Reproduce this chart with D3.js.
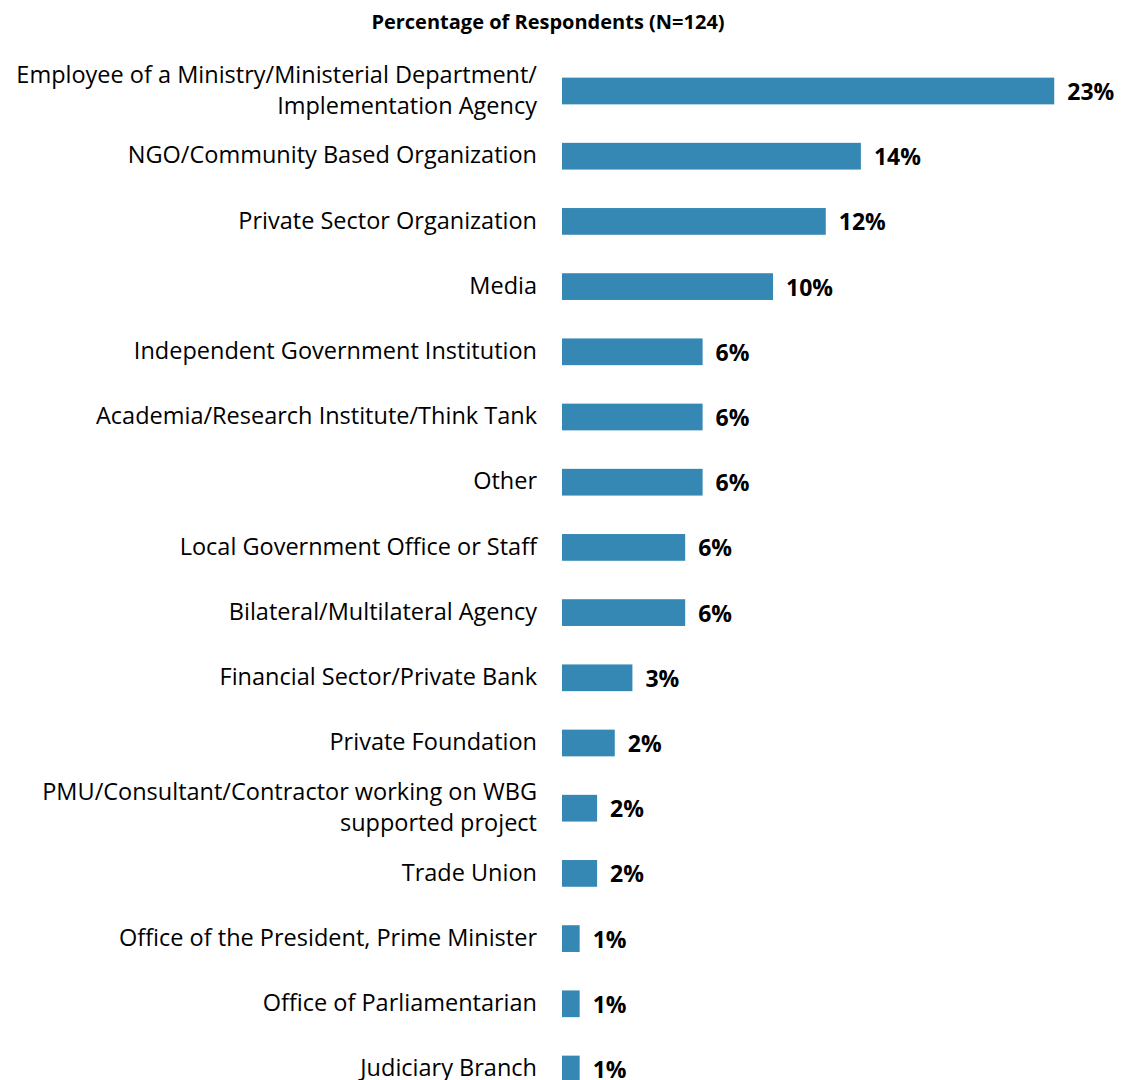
<!DOCTYPE html>
<html>
<head>
<meta charset="utf-8">
<script src="https://cdn.jsdelivr.net/npm/d3@7"></script>
<style>
  body { margin: 0; background: #fff; }
  text { font-family: "Open Sans", sans-serif; fill: #000; }
</style>
</head>
<body>
<div id="chart"></div>
<script>
// Categories (each entry is a list of label lines)
var categories = [
    ["Employee of a Ministry/Ministerial Department/", "Implementation Agency"],
    ["NGO/Community Based Organization"],
    ["Private Sector Organization"],
    ["Media"],
    ["Independent Government Institution"],
    ["Academia/Research Institute/Think Tank"],
    ["Other"],
    ["Local Government Office or Staff"],
    ["Bilateral/Multilateral Agency"],
    ["Financial Sector/Private Bank"],
    ["Private Foundation"],
    ["PMU/Consultant/Contractor working on WBG", "supported project"],
    ["Trade Union"],
    ["Office of the President, Prime Minister"],
    ["Office of Parliamentarian"],
    ["Judiciary Branch"]
];

// Percentage of respondents (N=124)
var values = [22.58, 13.71, 12.10, 9.68, 6.45, 6.45, 6.45, 5.65, 5.65, 3.23, 2.42, 1.61, 1.61, 0.81, 0.81, 0.81];

var title = "Percentage of Respondents (N=124)";

var width = 1131, height = 1080;

var svg = d3.select("#chart")
    .append("svg")
    .attr("width", width)
    .attr("height", height);

var idx = d3.range(categories.length);

// Bar positions
var y = d3.scaleBand()
    .domain(idx)
    .range([58.4, 1101.6])
    .paddingInner(0.59)
    .paddingOuter(0.295);

var x = d3.scaleLinear()
    .domain([0, 25])
    .range([562, 562 + 25 * 21.8]);

// Title
svg.append("text")
    .attr("x", 548)
    .attr("y", 29)
    .attr("text-anchor", "middle")
    .style("font-weight", "bold")
    .style("font-size", "20px")
    .text(title);

// Bars
svg.selectAll(".bar")
    .data(idx)
    .enter()
    .append("rect")
    .attr("class", "bar")
    .attr("x", x(0))
    .attr("y", function (i) { return y(i); })
    .attr("width", function (i) { return x(values[i]) - x(0); })
    .attr("height", y.bandwidth())
    .attr("fill", "#3587b4");

// Value labels
svg.selectAll(".val")
    .data(idx)
    .enter()
    .append("text")
    .attr("class", "val")
    .attr("x", function (i) { return x(values[i]) + 13; })
    .attr("y", function (i) { return y(i) + y.bandwidth() / 2 + 1; })
    .attr("dy", "0.35em")
    .style("font-weight", "bold")
    .style("font-size", "23px")
    .text(function (i) { return Math.round(values[i]) + "%"; });

// Category labels
var lab = svg.selectAll(".lab")
    .data(idx)
    .enter()
    .append("text")
    .attr("class", "lab")
    .attr("text-anchor", "end")
    .style("font-size", "23.5px")
    .attr("transform", function (i) {
        return "translate(537," + (y(i) + y.bandwidth() / 2 - 1) + ")";
    });

lab.selectAll("tspan")
    .data(function (i) {
        var lines = categories[i];
        return lines.map(function (t, k) { return { t: t, k: k, n: lines.length }; });
    })
    .enter()
    .append("tspan")
    .attr("x", 0)
    .attr("y", function (d) { return (d.k - (d.n - 1) / 2) * 31; })
    .attr("dy", "0.35em")
    .text(function (d) { return d.t; });
</script>
</body>
</html>
